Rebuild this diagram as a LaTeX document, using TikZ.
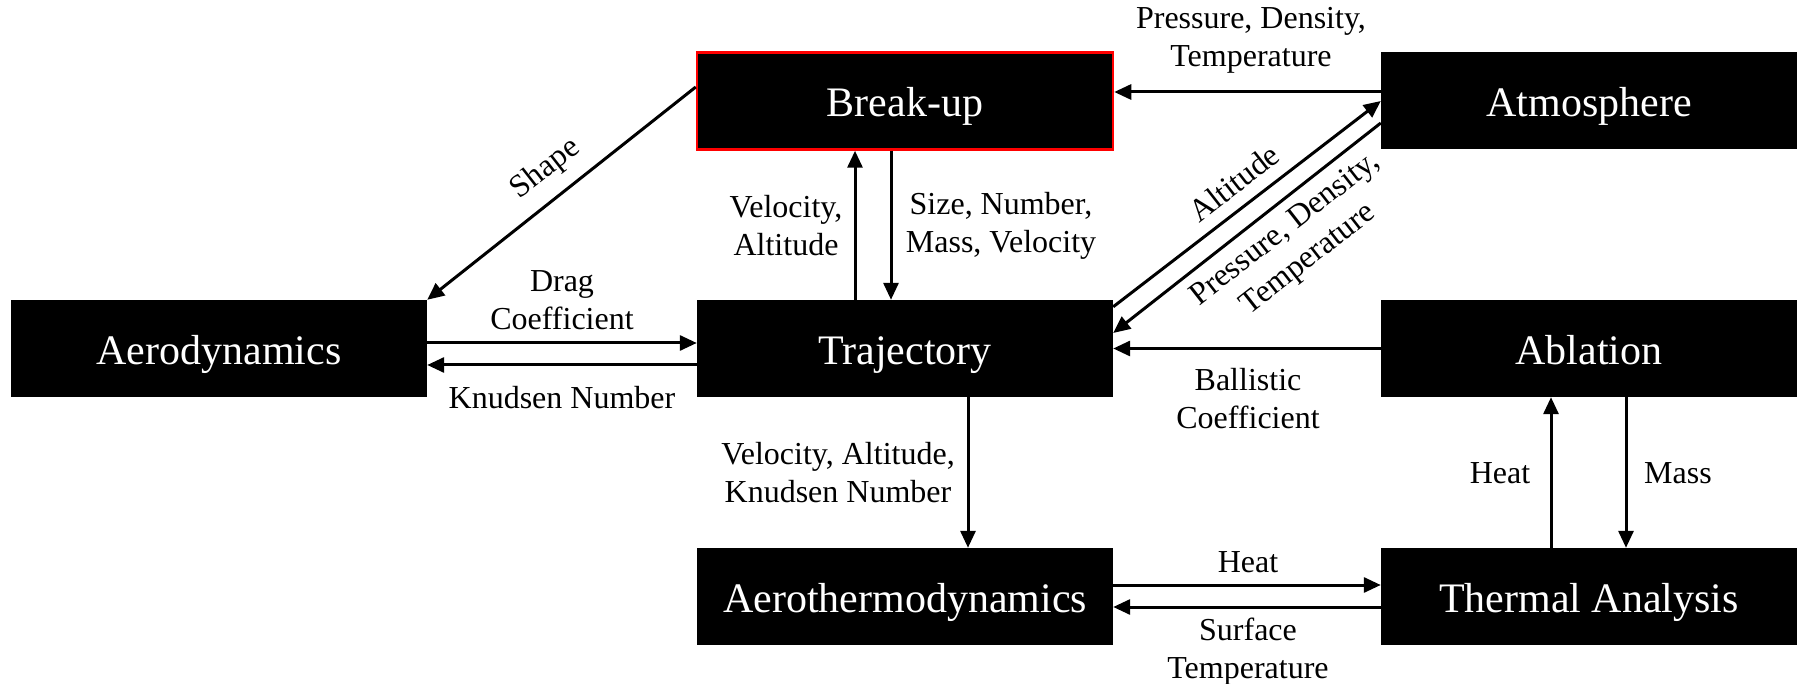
\documentclass[tikz,border=0pt]{standalone}
\usepackage{fontspec}
\setmainfont{Liberation Serif}
\usetikzlibrary{arrows.meta}
\begin{document}
\begin{tikzpicture}[x=1pt,y=-1pt,
  box/.style={fill=black,draw=none,text=white,minimum width=416pt,minimum height=97pt,inner sep=0pt,text height=36pt,text depth=4pt,font=\fontsize{42}{48}\selectfont},
  lab/.style={font=\fontsize{32}{38}\selectfont,align=center,inner sep=0pt},
  arr/.style={line width=3pt,-{Triangle[length=17pt,width=15pt]}}]
\useasboundingbox (0,0) rectangle (1800,684);
\node[box] (aero) at (219,348.5) {Aerodynamics};
\node[box,draw=red,line width=2.5pt] (brk) at (905,101) {Break-up};
\node[box] (traj) at (905,348.5) {Trajectory};
\node[box] (ath) at (905,596.5) {Aerothermodynamics};
\node[box] (atm) at (1589,101) {Atmosphere};
\node[box] (abl) at (1589,348.5) {Ablation};
\node[box] (therm) at (1589,596.5) {Thermal Analysis};
% connectors
\draw[arr] ([yshift=9pt]atm.west) -- ([yshift=9pt]brk.east);
\draw[arr] ([yshift=14pt]brk.west) -- (aero.north east);
\draw[arr] ([xshift=-50pt]traj.north) -- ([xshift=-50pt]brk.south);
\draw[arr] ([xshift=-14pt]brk.south) -- ([xshift=-14pt]traj.north);
\draw[arr] ([yshift=5.5pt]aero.east) -- ([yshift=5.5pt]traj.west);
\draw[arr] ([yshift=-16.5pt]traj.west) -- ([yshift=-16.5pt]aero.east);
\draw[arr] ([yshift=-7pt]traj.north east) -- (atm.west);
\draw[arr] ([yshift=-22pt]atm.west) -- ([yshift=15.5pt]traj.east);
\draw[arr] (abl.west) -- (traj.east);
\draw[arr] ([xshift=63pt]traj.south) -- ([xshift=63pt]ath.north);
\draw[arr] ([yshift=11.5pt]ath.east) -- ([yshift=11.5pt]therm.west);
\draw[arr] ([yshift=-10.5pt]therm.west) -- ([yshift=-10.5pt]ath.east);
\draw[arr] ([xshift=-38pt]therm.north) -- ([xshift=-38pt]abl.south);
\draw[arr] ([xshift=37pt]abl.south) -- ([xshift=37pt]therm.north);
% labels
\node[lab] (l1) at (1251,40) {Pressure, Density,\\Temperature};
\node[lab,rotate=38] (l2) at (546,169) {Shape};
\node[lab] (l3) at (786,226) {Velocity,\\Altitude};
\node[lab] (l4) at (1001,226) {Size, Number,\\Mass, Velocity};
\node[lab] (l5) at (562,300) {Drag\\Coefficient};
\node[lab] (l6) at (562,398) {Knudsen Number};
\node[lab,rotate=38] (l7) at (1234,183) {Altitude};
\node[lab,rotate=38] (l8) at (1297,245) {Pressure, Density,\\Temperature};
\node[lab] (l9) at (1248,399) {Ballistic\\Coefficient};
\node[lab] (l10) at (838,473) {Velocity, Altitude,\\Knudsen Number};
\node[lab] (l11) at (1248,562) {Heat};
\node[lab] (l12) at (1248,652) {Surface\\Temperature};
\node[lab] (l13) at (1500,473) {Heat};
\node[lab] (l14) at (1678,473) {Mass};
\end{tikzpicture}
\end{document}
